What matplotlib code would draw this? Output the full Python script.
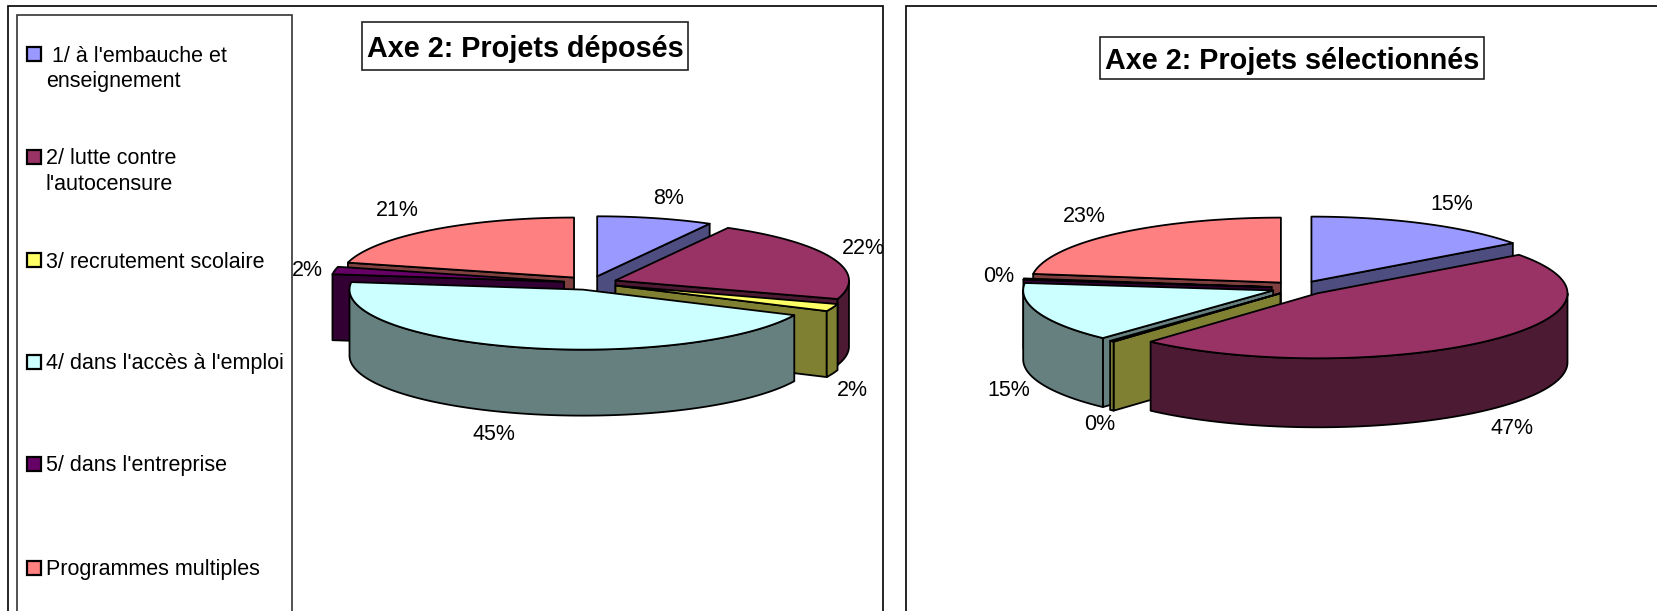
import numpy as np
import matplotlib
matplotlib.use("Agg")
import matplotlib.pyplot as plt
from matplotlib.patches import Polygon, Rectangle

plt.rcParams['font.family'] = ['Liberation Sans', 'DejaVu Sans']

# --- data ---
categories = [" 1/ à l'embauche et\nenseignement", "2/ lutte contre\nl'autocensure",
              "3/ recrutement scolaire", "4/ dans l'accès à l'emploi",
              "5/ dans l'entreprise", "Programmes multiples"]
deposes = [8, 22, 2, 45, 2, 21]
selectionnes = [15, 47, 0.3, 15, 0.3, 23]
title_deposes = "Axe 2: Projets déposés"
title_selectionnes = "Axe 2: Projets sélectionnés"

# --- style ---
top_colors = ['#9999FF', '#993366', '#FFFF66', '#CCFFFF', '#660066', '#FF8080']
side_colors = ['#4D4D80', '#4D1A33', '#808033', '#668080', '#330033', '#804040']

W, H = 1658, 611
LW = 1.3
FS = 15.5
fig = plt.figure(figsize=(W / 100, H / 100), dpi=100, facecolor='white')
ax = fig.add_axes([0, 0, 1, 1])
ax.set_xlim(0, W)
ax.set_ylim(H, 0)
ax.axis('off')


def pts(cx, cy, rx, ry, a0, a1, dz=0.0):
    t = np.radians(np.linspace(a0, a1, max(2, int(abs(a1 - a0) * 2) + 2)))
    return np.column_stack([cx + rx * np.sin(t), cy - ry * np.cos(t) + dz])


def poly(xy, color, z):
    ax.add_patch(Polygon(xy, closed=True, facecolor=color, edgecolor='black',
                         linewidth=LW, joinstyle='round', zorder=z))


def pie3d(values, cx, cy, rx, ry, depth, explode):
    vals = np.asarray(values, float)
    edges = np.concatenate([[0], np.cumsum(vals)]) / vals.sum() * 360
    slices = []
    for i in range(len(vals)):
        a0, a1 = edges[i], edges[i + 1]
        m = np.radians((a0 + a1) / 2)
        ox = cx + explode * rx * np.sin(m)
        oy = cy - explode * ry * np.cos(m)
        slices.append((oy, i, a0, a1, ox))
    z = 3
    for oy, i, a0, a1, ox in sorted(slices):
        side, top = side_colors[i], top_colors[i]
        for ang, vis in ((a0, np.sin(np.radians(a0)) < -1e-6),
                         (a1, np.sin(np.radians(a1)) > 1e-6)):
            if vis:
                e = pts(ox, oy, rx, ry, ang, ang)[0]
                poly([(ox, oy), e, (e[0], e[1] + depth), (ox, oy + depth)], side, z)
                z += 1
        lo, hi = max(a0, 90), min(a1, 270)
        if hi > lo:
            poly(np.vstack([pts(ox, oy, rx, ry, lo, hi),
                            pts(ox, oy, rx, ry, hi, lo, depth)]), side, z)
            z += 1
        poly(np.vstack([[(ox, oy)], pts(ox, oy, rx, ry, a0, a1)]), top, z)
        z += 1


def pct(v):
    return f"{int(round(v))}%"


# frames
ax.add_patch(Rectangle((8, 6), 875, 620, fc='white', ec='black', lw=1.2, zorder=1))
ax.add_patch(Rectangle((906, 6), 780, 620, fc='white', ec='black', lw=1.2, zorder=1))
ax.add_patch(Rectangle((17, 15), 275, 620, fc='white', ec='#333333', lw=1.2, zorder=2))

pie3d(deposes, 590.5, 283, 233.5, 60, 66, 0.115)
pie3d(selectionnes, 1299, 288, 250, 65, 69, 0.11)

# data labels
left_xy = [(669, 199), (863, 249), (852, 390), (494, 434), (307, 271), (397, 211)]
right_xy = [(1452, 205), (1512, 428), (1100, 424), (1009, 390), (999, 277), (1084, 216)]
for vals, xys in ((deposes, left_xy), (selectionnes, right_xy)):
    for v, (x, y) in zip(vals, xys):
        ax.text(x, y, pct(v), ha='center', va='center', fontsize=FS, color='black', zorder=100)

# titles
for txt, (x0, x1, y0, y1) in ((title_deposes, (362, 688, 22, 70)),
                              (title_selectionnes, (1100, 1484, 37, 79))):
    ax.add_patch(Rectangle((x0, y0), x1 - x0, y1 - y0, fc='white', ec='#222222', lw=1.2, zorder=50))
    ax.text((x0 + x1) / 2, (y0 + y1) / 2 + 3, txt, ha='center', va='center',
            fontsize=20.7, fontweight='bold', color='black', zorder=51)

# legend
legend_y = [54, 157, 260, 362, 464, 568]
for name, col, y in zip(categories, top_colors, legend_y):
    ax.add_patch(Rectangle((27, y - 7), 14, 14, fc=col, ec='black', lw=1.6, zorder=5))
    lines = name.split("\n")
    for k, ln in enumerate(lines):
        ax.text(46, y + 2 + k * 25, ln, ha='left', va='center', fontsize=FS, color='black', zorder=5)

fig.savefig('out.png', dpi=100, facecolor='white')
